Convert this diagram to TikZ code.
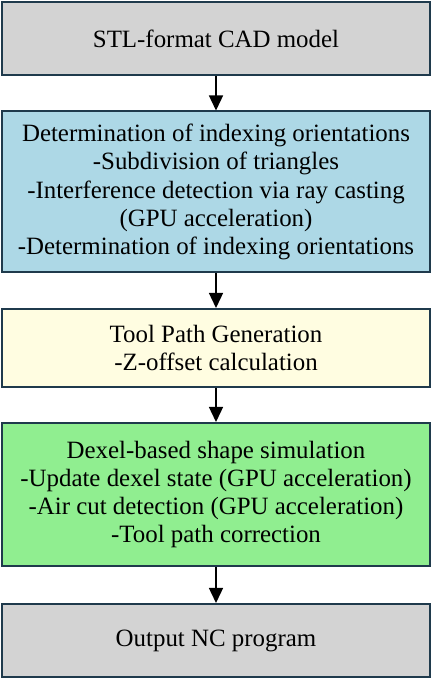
\documentclass[tikz,border=0pt]{standalone}
\usepackage{fontspec}
\setmainfont{Liberation Serif}
\usetikzlibrary{arrows.meta}
\definecolor{edgec}{HTML}{1F3A4C}
\definecolor{cgray}{HTML}{D3D3D3}
\definecolor{cblue}{HTML}{ADD8E6}
\definecolor{cyellow}{HTML}{FFFDE1}
\definecolor{cgreen}{HTML}{90EE90}
\begin{document}
\begin{tikzpicture}[x=1pt,y=1pt,
  box/.style={draw=edgec, line width=2pt, minimum width=428pt, inner sep=0pt, align=center,
    font=\fontsize{24.9}{28.3}\selectfont},
  flow/.style={-{Triangle[width=14pt,length=15pt]}, line width=1.4pt, black}]
\useasboundingbox (0,0) rectangle (432,679);
\node[box, fill=cgray, minimum height=73pt] (a) at (216,640.5) {STL-format CAD model};
\node[box, fill=cblue, minimum height=161pt] (b) at (216,487) {Determination of indexing orientations\\-Subdivision of triangles\\-Interference detection via ray casting\\(GPU acceleration)\\-Determination of indexing orientations};
\node[box, fill=cyellow, minimum height=78pt] (c) at (216,331) {Tool Path Generation\\-Z-offset calculation};
\node[box, fill=cgreen, minimum height=143pt] (d) at (216,184.5) {Dexel-based shape simulation\\-Update dexel state (GPU acceleration)\\-Air cut detection (GPU acceleration)\\-Tool path correction};
\node[box, fill=cgray, minimum height=73pt] (e) at (216,38.5) {Output NC program};
\draw[flow] (a) -- (b);
\draw[flow] (b) -- (c);
\draw[flow] (c) -- (d);
\draw[flow] (d) -- (e);
\end{tikzpicture}
\end{document}
